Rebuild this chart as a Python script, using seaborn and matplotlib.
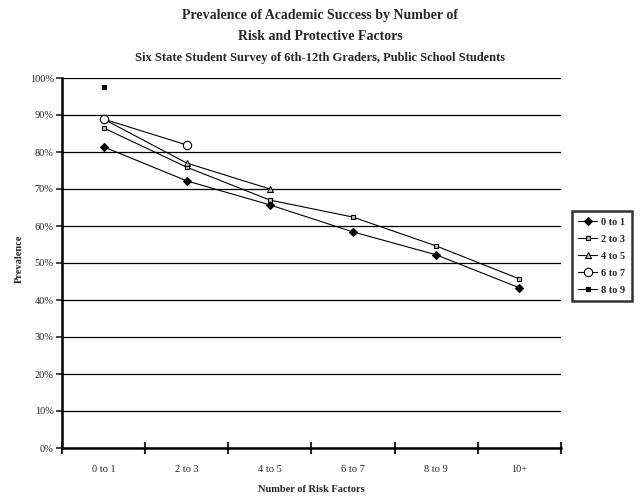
import numpy as np
import pandas as pd
import matplotlib
matplotlib.use("Agg")
import matplotlib.pyplot as plt
from matplotlib.ticker import FixedLocator, PercentFormatter
import seaborn as sns

sns.set_style("white")
plt.rcParams["font.family"] = ["Liberation Serif", "DejaVu Serif"]

# risk factor groups along x
risk_groups = ["0 to 1", "2 to 3", "4 to 5", "6 to 7", "8 to 9", "10+"]

# one series per number of protective factors
prot_0_1 = [81.4, 72.2, 65.7, 58.4, 52.2, 43.3]
prot_2_3 = [86.5, 75.9, 67.0, 62.4, 54.6, 45.7]
prot_4_5 = [88.9, 77.0, 70.0]
prot_6_7 = [88.9, 81.9]
prot_8_9 = [97.6]

series_names = ["0 to 1", "2 to 3", "4 to 5", "6 to 7", "8 to 9"]
series_values = [prot_0_1, prot_2_3, prot_4_5, prot_6_7, prot_8_9]

styles = {
    "0 to 1": dict(marker="D", markersize=4.5, markerfacecolor="black", markeredgecolor="black"),
    "2 to 3": dict(marker="s", markersize=3.5, markerfacecolor="#c0c0c0", markeredgecolor="black"),
    "4 to 5": dict(marker="^", markersize=4.5, markerfacecolor="#c0c0c0", markeredgecolor="black"),
    "6 to 7": dict(marker="o", markersize=6, markerfacecolor="white", markeredgecolor="black"),
    "8 to 9": dict(marker="s", markersize=2.5, markerfacecolor="black", markeredgecolor="black"),
}

rows = []
for name, vals in zip(series_names, series_values):
    for grp, v in zip(risk_groups, vals):
        rows.append({"risk": grp, "prevalence": v / 100.0, "protective": name})
df = pd.DataFrame(rows)

fig = plt.figure(figsize=(6.4, 5.0), dpi=100)
ax = fig.add_axes([62 / 640, 52 / 500, 499 / 640, 370 / 500])

pos = {g: i for i, g in enumerate(risk_groups)}
df["x"] = df["risk"].map(pos)

for name in series_names:
    sub = df[df["protective"] == name]
    sns.lineplot(data=sub, x="x", y="prevalence", ax=ax, color="black",
                 linewidth=0.8, markeredgewidth=0.8, label=name, **styles[name])

ax.set_xlim(-0.5, len(risk_groups) - 0.5)
ax.set_ylim(0, 1.0)

# y axis: percent ticks with black gridlines
ax.yaxis.set_major_locator(FixedLocator(np.arange(0, 1.01, 0.1)))
ax.yaxis.set_major_formatter(PercentFormatter(1.0, decimals=0))
ax.grid(axis="y", color="black", linewidth=0.9)
ax.set_axisbelow(True)
ax.tick_params(axis="y", which="major", direction="out", length=4, width=1.2,
               left=True, labelsize=7.5, pad=2)

# x axis: labels at centres, tick marks at category boundaries
ax.set_xticks(range(len(risk_groups)))
ax.set_xticklabels(risk_groups)
ax.xaxis.set_minor_locator(FixedLocator(np.arange(-0.5, len(risk_groups), 1.0)))
ax.tick_params(axis="x", which="major", length=0, labelsize=7.5, pad=12)
ax.tick_params(axis="x", which="minor", direction="inout", length=8, width=1.5, bottom=True)

for s in ["top", "right"]:
    ax.spines[s].set_visible(False)
for s in ["left", "bottom"]:
    ax.spines[s].set_linewidth(1.8)
    ax.spines[s].set_color("black")

ax.set_xlabel("Number of Risk Factors", fontsize=7.5, fontweight="bold", labelpad=8)
ax.set_ylabel("Prevalence", fontsize=7.5, fontweight="bold")
ax.yaxis.set_label_coords((24 - 62) / 499, (448 - 259) / 370)

fig.text(0.5, 1 - 16 / 500, "Prevalence of Academic Success by Number of",
         ha="center", va="center", fontsize=10, fontweight="bold")
fig.text(0.5, 1 - 37 / 500, "Risk and Protective Factors",
         ha="center", va="center", fontsize=10, fontweight="bold")
fig.text(0.5, 1 - 58 / 500, "Six State Student Survey of 6th-12th Graders, Public School Students",
         ha="center", va="center", fontsize=9, fontweight="bold")

leg = ax.legend(loc="upper left", bbox_to_anchor=(572 / 640, 1 - 211 / 500),
                bbox_transform=fig.transFigure, frameon=True, fancybox=False,
                edgecolor="black", prop={"size": 7.5, "weight": "bold"},
                handlelength=1.8, handletextpad=0.4, labelspacing=0.75,
                borderpad=0.6, borderaxespad=0)
leg.get_frame().set_linewidth(1.8)

fig.savefig("out.png", dpi=100, facecolor="white")
